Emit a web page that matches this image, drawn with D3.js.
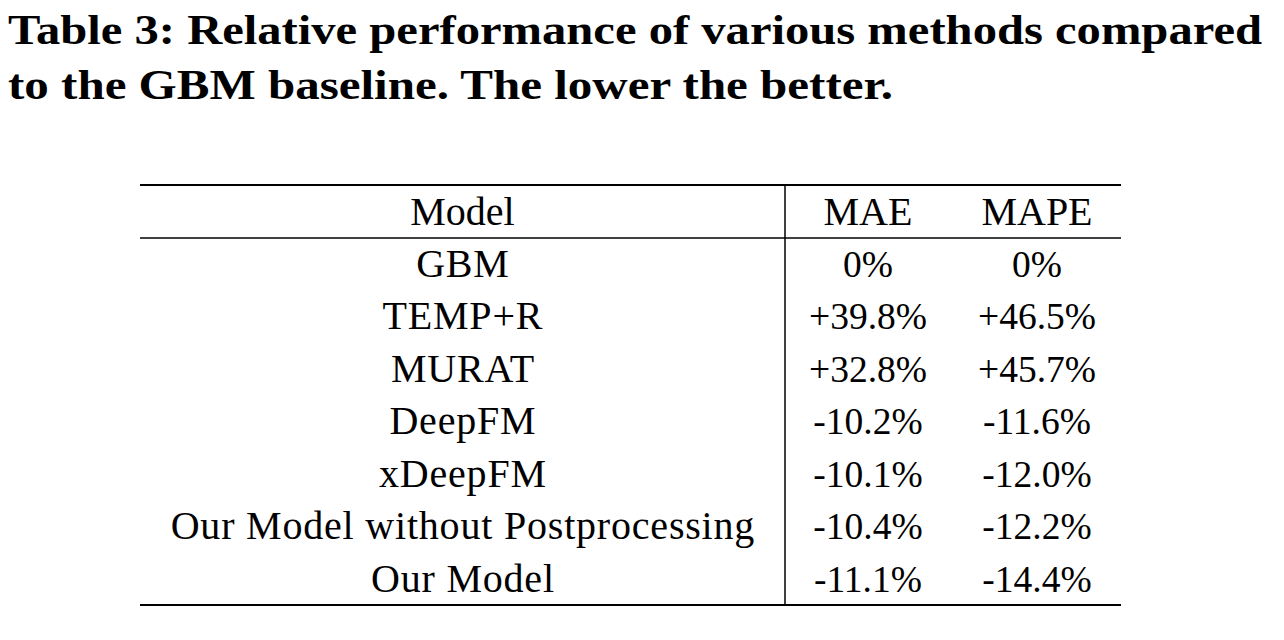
<!DOCTYPE html>
<html><head><meta charset="utf-8">
<script src="https://cdn.jsdelivr.net/npm/d3@7"></script>
<style>html,body{margin:0;padding:0;background:#fff;}svg{display:block;}</style>
</head><body>
<script>
const titleLines = ["Table 3: Relative performance of various methods compared", "to the GBM baseline. The lower the better."];
const headers = ["Model", "MAE", "MAPE"];
const models = ["GBM", "TEMP+R", "MURAT", "DeepFM", "xDeepFM", "Our Model without Postprocessing", "Our Model"];
const mae = ["0%", "+39.8%", "+32.8%", "-10.2%", "-10.1%", "-10.4%", "-11.1%"];
const mape = ["0%", "+46.5%", "+45.7%", "-11.6%", "-12.0%", "-12.2%", "-14.4%"];

const W = 1284, H = 640;
const svg = d3.select("body").append("svg").attr("width", W).attr("height", H);
const serif = "'Liberation Serif','DejaVu Serif',serif";

// title
svg.selectAll("text.title").data(titleLines).join("text")
  .attr("class", "title")
  .attr("x", 8).attr("y", (d, i) => 44 + i * 55)
  .attr("font-family", serif).attr("font-weight", "bold").attr("font-size", 43)
  .attr("textLength", (d, i) => i === 0 ? 1254 : 885)
  .attr("lengthAdjust", "spacingAndGlyphs")
  .attr("fill", "#000").text(d => d);

// table geometry via scales
const tableLeft = 140, tableRight = 1121, divider = 785;
const tableTop = 185, headBottom = 238, tableBottom = 605;
const x = d3.scaleOrdinal().domain(headers).range([(tableLeft + divider) / 2, 868, 1037]);
const y = d3.scaleBand().domain(d3.range(models.length)).range([headBottom, tableBottom]);

// header
svg.selectAll("text.head").data(headers).join("text")
  .attr("class", "head")
  .attr("x", d => x(d)).attr("y", tableTop + 40)
  .attr("text-anchor", "middle")
  .attr("font-family", serif).attr("font-size", 40).attr("fill", "#000")
  .text(d => d);

const rows = models.map((m, i) => ({i, cells: [m, mae[i], mape[i]]}));
const g = svg.selectAll("g.row").data(rows).join("g").attr("class", "row")
  .attr("transform", d => `translate(0,${y(d.i) + 39})`);
g.selectAll("text").data(d => d.cells.map((c, j) => ({c, j, col: headers[j]}))).join("text")
  .attr("x", d => x(d.col) + (d.j === 0 ? 0.4 : 0)).attr("y", 0)
  .attr("text-anchor", "middle")
  .attr("font-family", serif)
  .attr("font-size", d => d.j === 0 ? 40 : 37.5)
  .attr("letter-spacing", d => d.j === 0 ? 0.8 : 0)
  .attr("fill", "#000")
  .text(d => d.c);

// rules
const line = (x1, y1, x2, y2, w) => svg.append("line").attr("x1", x1).attr("y1", y1).attr("x2", x2).attr("y2", y2)
  .attr("stroke", "#000").attr("stroke-width", w);
line(tableLeft, tableTop, tableRight, tableTop, 2);
line(tableLeft, headBottom, tableRight, headBottom, 1.5);
line(tableLeft, tableBottom, tableRight, tableBottom, 2);
line(divider, tableTop, divider, tableBottom, 1.5);
</script>
</body></html>
